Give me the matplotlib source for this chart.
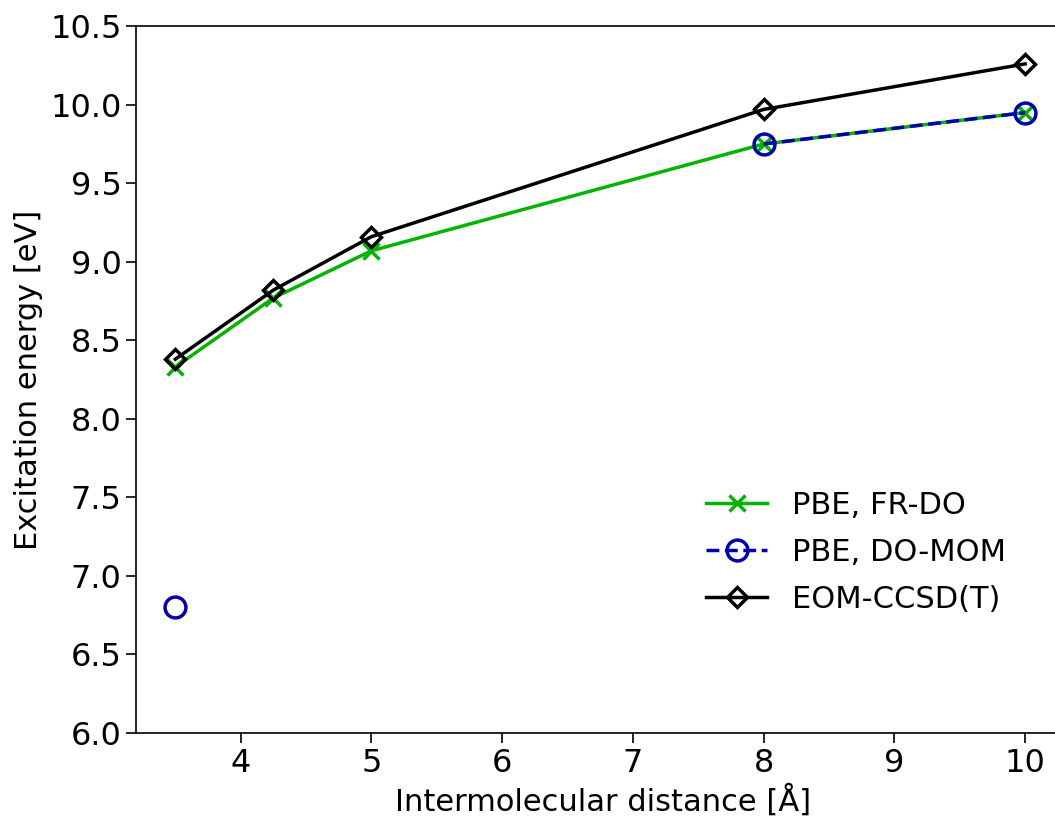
import numpy as np
import matplotlib
matplotlib.use('Agg')
import matplotlib.pyplot as plt

# intermolecular distance [Angstrom]
distance = [3.5, 4.25, 5.0, 8.0, 10.0]
# excitation energies [eV]
pbe_fr_do = [8.33, 8.77, 9.07, 9.75, 9.95]
pbe_do_mom = [6.80, np.nan, np.nan, 9.75, 9.95]
eom_ccsd_t = [8.38, 8.82, 9.16, 9.97, 10.26]

green = '#00b400'
blue = '#0000b0'

plt.rcParams['font.size'] = 22

fig = plt.figure(figsize=(10.55, 8.19), dpi=100)
ax = fig.add_axes([0.129, 0.105, 0.886, 0.863])

ax.plot(distance, pbe_fr_do, color=green, marker='x', lw=2.5,
        ms=11, mew=2.5, label='PBE, FR-DO')
ax.plot(distance, pbe_do_mom, color=blue, marker='o', ls='--', lw=2.5,
        ms=15, mew=2.5, mfc='none', label='PBE, DO-MOM')
ax.plot(distance, eom_ccsd_t, color='black', marker='D', lw=2.5,
        ms=10, mew=2.5, mfc='none', label='EOM-CCSD(T)')

ax.set_xlim(3.2, 10.35)
ax.set_ylim(6.0, 10.5)
ax.set_xticks([4, 5, 6, 7, 8, 9, 10])
ax.set_yticks(np.arange(6.0, 10.51, 0.5))
ax.yaxis.set_major_formatter(matplotlib.ticker.FormatStrFormatter('%.1f'))
ax.tick_params(direction='out', length=7, width=1.2, labelsize=23)
for s in ax.spines.values():
    s.set_linewidth(1.2)

ax.set_xlabel('Intermolecular distance [Å]', fontsize=22)
ax.set_ylabel('Excitation energy [eV]', fontsize=22, labelpad=5)

ax.legend(frameon=False, loc='lower right', bbox_to_anchor=(0.96, 0.13),
          fontsize=22, handlelength=2.0, labelspacing=0.58)

fig.savefig('out.png', dpi=100)
